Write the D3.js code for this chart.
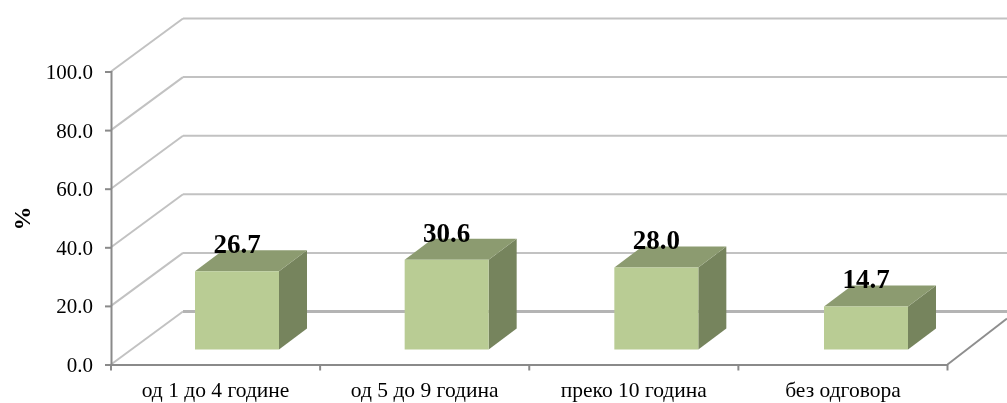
<!DOCTYPE html>
<html><head><meta charset="utf-8">
<script src="https://cdn.jsdelivr.net/npm/d3@7"></script>
<style>html,body{margin:0;background:#fff}svg{display:block;filter:blur(0.35px)}text{font-family:"Liberation Serif",serif;fill:#000}</style>
</head><body><div id="c"></div>
<script>
const categories=["од 1 до 4 године","од 5 до 9 година","преко 10 година","без одговора"];
const values=[26.7,30.6,28.0,14.7];
const yTicks=[0,20,40,60,80,100];
const yLabel="%";
const W=1007,H=403,dx=72,dy=53;
const svg=d3.select("#c").append("svg").attr("width",W).attr("height",H);
const x=d3.scaleBand().domain(categories).range([111,947.5]);
const barX=d3.scalePoint().domain(categories).range([195,824]);
const y=d3.scaleLinear().domain([0,100]).range([364.5,71.5]);
const grid=svg.append("g");
yTicks.forEach(t=>{
  const side=d3.path();side.moveTo(111,y(t));side.lineTo(111+dx,y(t)-dy);
  grid.append("path").attr("d",side).attr("fill","none").attr("stroke","#c2c2c2").attr("stroke-width",2);
  const back=d3.path();back.moveTo(111+dx,y(t)-dy);back.lineTo(W,y(t)-dy);
  grid.append("path").attr("d",back).attr("fill","none").attr("stroke",t===0?"#b4b4b4":"#c2c2c2").attr("stroke-width",t===0?3:2);
});
const floorR=d3.path();floorR.moveTo(947.5,364.5);floorR.lineTo(1007,318.5);
svg.append("path").attr("d",floorR).attr("fill","none").attr("stroke","#8e8e8e").attr("stroke-width",1.9);
const gy=svg.append("g").attr("transform","translate(111,0)").call(d3.axisLeft(y).tickValues(yTicks).tickFormat(d3.format(".1f")).tickSize(6).tickPadding(11));
const gx=svg.append("g").attr("transform","translate(0,364.5)").call(d3.axisBottom(x).tickSize(0).tickPadding(11));
[gy,gx].forEach(g=>{g.select(".domain").attr("stroke","#8a8a8a").attr("stroke-width",2);g.selectAll("line").attr("stroke","#8a8a8a").attr("stroke-width",2);});
gy.selectAll("text").style("font-size","21px").attr("dy","0.33em").attr("x",-18);
gx.selectAll("text").style("font-size","21.5px").attr("dy",0).attr("y",32.5);
gx.selectAll(".sep").data(d3.range(categories.length+1)).join("line").attr("class","sep")
  .attr("x1",i=>111+i*x.bandwidth()).attr("x2",i=>111+i*x.bandwidth()).attr("y1",0).attr("y2",6)
  .attr("stroke","#8a8a8a").attr("stroke-width",2);
const bw=84,ddx=28,ddy=21,base=y(0)-15,uh=y(0)-y(1);
const bars=svg.append("g");
categories.forEach((c,i)=>{
  const L=barX(c),R=L+bw,T=base-values[i]*uh,B=base;
  const poly=(pts,f)=>bars.append("polygon").attr("points",pts.map(p=>p.join(",")).join(" ")).attr("fill",f);
  poly([[R,T],[R+ddx,T-ddy],[R+ddx,B-ddy],[R,B]],"#76845d");
  poly([[L,T],[L+ddx,T-ddy],[R+ddx,T-ddy],[R,T]],"#8c9b70");
  poly([[L,T],[R,T],[R,B],[L,B]],"#b9cc94");
  svg.append("text").attr("x",L+42).attr("y",T-18).attr("text-anchor","middle").attr("font-weight","bold").style("font-size","27px").text(d3.format(".1f")(values[i]));
});
svg.append("text").attr("transform","translate(30,218.5) rotate(-90)").attr("text-anchor","middle").attr("font-weight","bold").style("font-size","24px").text(yLabel);
</script></body></html>
